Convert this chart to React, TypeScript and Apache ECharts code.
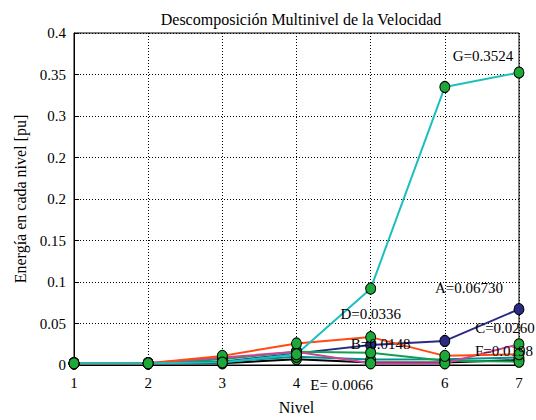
import React, { useEffect, useRef } from "react";
import * as echarts from "echarts";

const levels = [1, 2, 3, 4, 5, 6, 7];
const xTickLabels = ["1", "2", "3", "4", "", "6", "7"];
const yTickLabels = ["0", "0.05", "0.1", "0.15", "0.2", "0.2", "0.3", "0.35", "0.4"];

const seriesA = [0.002, 0.002, 0.004, 0.014, 0.024, 0.029, 0.0673]; // navy
const seriesF = [0.002, 0.002, 0.002, 0.007, 0.003, 0.003, 0.006]; // black
const seriesE = [0.002, 0.002, 0.004, 0.010, 0.0066, 0.007, 0.009]; // teal
const seriesB = [0.002, 0.002, 0.007, 0.016, 0.0148, 0.005, 0.004]; // green
const seriesC = [0.002, 0.002, 0.009, 0.016, 0.002, 0.002, 0.025]; // magenta
const seriesD = [0.002, 0.002, 0.011, 0.026, 0.0336, 0.011, 0.013]; // orange
const seriesG = [0.002, 0.002, 0.003, 0.013, 0.092, 0.335, 0.3524]; // cyan

const FONT = "'Liberation Serif', 'Times New Roman', serif";
const MARKER_GREEN = "#1fa83a";

type Ann = { idx: number; text: string; offset: [number, number] };

function build(
  name: string,
  values: number[],
  color: string,
  markerColor: string,
  anns: Ann[]
) {
  return {
    name,
    type: "line",
    data: values.map((v, i) => {
      const a = anns.find((q) => q.idx === i);
      const item: any = { value: [levels[i], v] };
      if (a) {
        item.label = {
          show: true,
          formatter: a.text,
          position: "inside",
          offset: a.offset,
          color: "#000",
          fontFamily: FONT,
          fontSize: 15,
        };
      }
      return item;
    }),
    symbol: "circle",
    symbolSize: [10, 11],
    showAllSymbol: true,
    lineStyle: { color, width: 2 },
    itemStyle: { color: markerColor, borderColor: "#000", borderWidth: 1 },
    label: { show: false },
    emphasis: { disabled: true },
  };
}

export default function App() {
  const ref = useRef<HTMLDivElement>(null);
  useEffect(() => {
    if (!ref.current) return;
    const chart = echarts.init(ref.current, undefined, { renderer: "svg" });
    chart.setOption({
      animation: false,
      backgroundColor: "#fff",
      title: {
        text: "Descomposición Multinivel de la Velocidad",
        left: 296,
        top: 6,
        textAlign: "center",
        textStyle: { fontFamily: FONT, fontSize: 16, fontWeight: "normal", color: "#000" },
      },
      grid: {
        left: 74,
        right: 17,
        top: 33,
        bottom: 51,
        show: true,
        borderColor: "#000",
        borderWidth: 1,
        backgroundColor: "transparent",
      },
      xAxis: {
        type: "value",
        min: 1,
        max: 7,
        interval: 1,
        name: "Nivel",
        nameLocation: "middle",
        nameGap: 34,
        nameTextStyle: { fontFamily: FONT, fontSize: 16, color: "#000" },
        axisLine: { show: true, lineStyle: { color: "#000", width: 1 } },
        axisTick: { show: true, inside: true, length: 5, lineStyle: { color: "#000" } },
        axisLabel: {
          fontFamily: FONT,
          fontSize: 15,
          color: "#000",
          margin: 10,
          formatter: (v: number) => xTickLabels[Math.round(v) - 1] ?? "",
        },
        splitLine: { show: true, lineStyle: { color: "#000", type: [1, 2], width: 1 } },
      },
      yAxis: {
        type: "value",
        min: 0,
        max: 0.4,
        interval: 0.05,
        name: "Energía en cada nivel [pu]",
        nameLocation: "middle",
        nameGap: 46,
        nameTextStyle: { fontFamily: FONT, fontSize: 16, color: "#000" },
        axisLine: { show: true, lineStyle: { color: "#000", width: 1 } },
        axisTick: { show: true, inside: true, length: 5, lineStyle: { color: "#000" } },
        axisLabel: {
          fontFamily: FONT,
          fontSize: 15,
          color: "#000",
          margin: 8,
          formatter: (v: number) => yTickLabels[Math.round(v / 0.05)] ?? "",
        },
        splitLine: { show: true, lineStyle: { color: "#000", type: [1, 2], width: 1 } },
      },
      series: [
        build("A", seriesA, "#2a2a85", "#2a2a85", [
          { idx: 6, text: "A=0.06730", offset: [-50, -21] },
        ]),
        build("F", seriesF, "#000000", MARKER_GREEN, []),
        build("E", seriesE, "#009090", MARKER_GREEN, [
          { idx: 4, text: "E= 0.0066", offset: [-29, 25] },
        ]),
        build("B", seriesB, "#10a050", MARKER_GREEN, [
          { idx: 4, text: "B=0.0148", offset: [10, -9] },
        ]),
        build("C", seriesC, "#cc4499", MARKER_GREEN, [
          { idx: 6, text: "C=0.0260", offset: [-14, -16] },
        ]),
        build("D", seriesD, "#ff4a10", MARKER_GREEN, [
          { idx: 4, text: "D=0.0336", offset: [0, -23] },
          { idx: 6, text: "F=0.0198", offset: [-15, -3] },
        ]),
        build("G", seriesG, "#1bbfbf", MARKER_GREEN, [
          { idx: 6, text: "G=0.3524", offset: [-36, -17] },
        ]),
      ],
    });
    return () => chart.dispose();
  }, []);
  return (
    <div
      ref={ref}
      style={{ position: "absolute", left: 0, top: 0, width: 536, height: 420 }}
    />
  );
}
